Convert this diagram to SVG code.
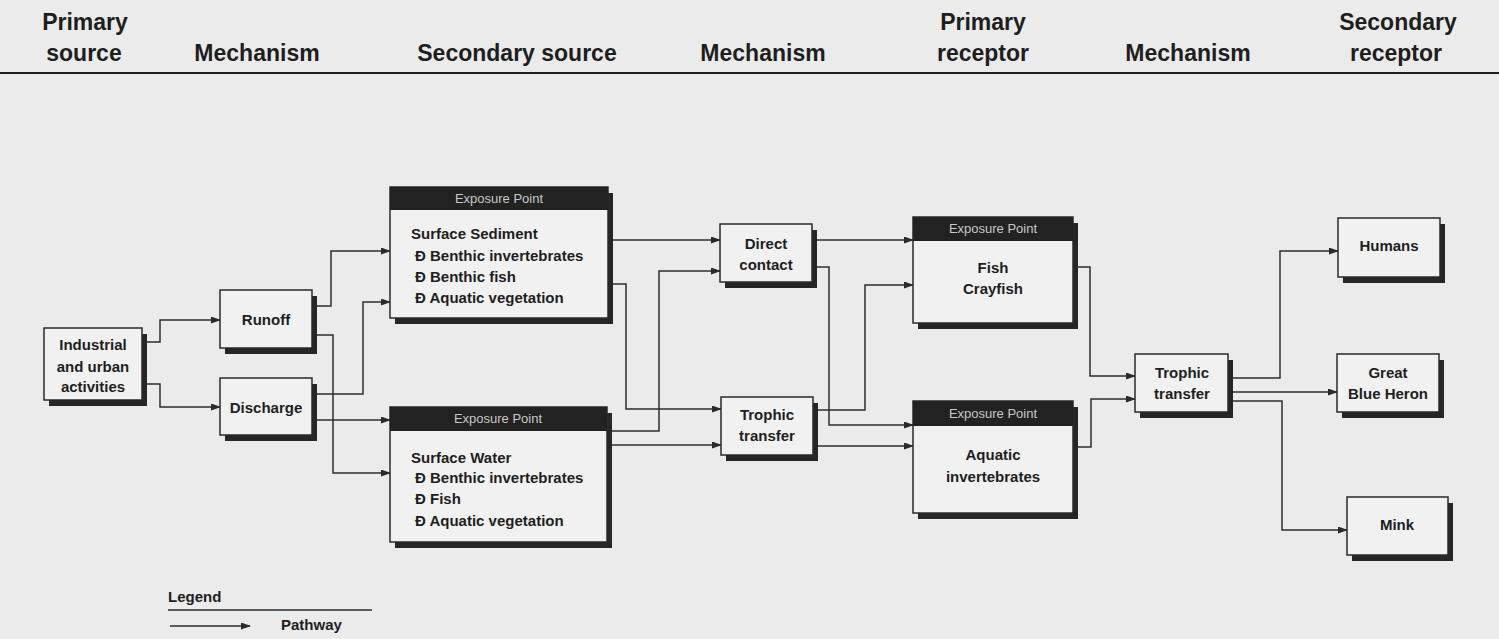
<svg xmlns="http://www.w3.org/2000/svg" width="1499" height="639" viewBox="0 0 1499 639">
<defs>
<marker id="arr" markerUnits="userSpaceOnUse" markerWidth="10" markerHeight="7" refX="9" refY="3.5" orient="auto">
<path d="M0,0 L10,3.5 L0,7 z" fill="#2a2a2a"/>
</marker>
<style>
.hdr{font-family:"Liberation Sans",Arial,sans-serif;font-weight:bold;font-size:23px;fill:#1e1e1e;text-anchor:middle}
.t{font-family:"Liberation Sans",Arial,sans-serif;font-weight:bold;font-size:15px;fill:#1e1e1e}
.c{text-anchor:middle}
.ep{font-family:"Liberation Sans",Arial,sans-serif;font-size:13px;fill:#c8c8c8;text-anchor:middle}
.box{fill:#f1f1f1;stroke:#2a2a2a;stroke-width:1.5}
.sh{fill:#262626}
.bar{fill:#222}
.conn path{fill:none;stroke:#2e2e2e;stroke-width:1.5;marker-end:url(#arr)}
</style>
</defs>
<rect x="0" y="0" width="1499" height="639" fill="#ebebeb"/>

<g id="header">
<text class="hdr" x="85" y="30">Primary</text>
<text class="hdr" x="84" y="61">source</text>
<text class="hdr" x="257" y="61">Mechanism</text>
<text class="hdr" x="517" y="61">Secondary source</text>
<text class="hdr" x="763" y="61">Mechanism</text>
<text class="hdr" x="983" y="30">Primary</text>
<text class="hdr" x="983" y="61">receptor</text>
<text class="hdr" x="1188" y="61">Mechanism</text>
<text class="hdr" x="1398" y="30">Secondary</text>
<text class="hdr" x="1396" y="61">receptor</text>
<line x1="0" y1="73" x2="1499" y2="73" stroke="#1e1e1e" stroke-width="2"/>
</g>

<g id="connectors" class="conn">
<path d="M142,342 H160 V320 H220"/>
<path d="M142,384 H160 V407 H220"/>
<path d="M312,306 H331 V251 H390"/>
<path d="M312,335 H333 V473 H390"/>
<path d="M312,394 H363 V302 H390"/>
<path d="M312,420 H390"/>
<path d="M608,240 H720"/>
<path d="M608,284 H626 V409 H721"/>
<path d="M607,431 H659 V271 H720"/>
<path d="M607,445 H721"/>
<path d="M812,240 H913"/>
<path d="M812,267 H829 V425 H913"/>
<path d="M813,410 H865 V285 H913"/>
<path d="M813,446 H913"/>
<path d="M1073,267 H1090 V376 H1135"/>
<path d="M1073,447 H1091 V399 H1135"/>
<path d="M1228,378 H1280 V251 H1338"/>
<path d="M1228,392 H1337"/>
<path d="M1228,401 H1282 V530 H1347"/>
</g>

<g id="industrial">
<rect class="sh" x="49" y="334" width="98" height="72"/>
<rect class="box" x="44" y="328" width="98" height="72"/>
<text class="t c" x="93" y="350">Industrial</text>
<text class="t c" x="93" y="372">and urban</text>
<text class="t c" x="93" y="392">activities</text>
</g>

<g id="runoff">
<rect class="sh" x="225" y="296" width="92" height="58"/>
<rect class="box" x="220" y="290" width="92" height="58"/>
<text class="t c" x="266" y="325">Runoff</text>
</g>

<g id="discharge">
<rect class="sh" x="225" y="384" width="92" height="57"/>
<rect class="box" x="220" y="378" width="92" height="57"/>
<text class="t c" x="266" y="413">Discharge</text>
</g>

<g id="surface-sediment">
<rect class="sh" x="395" y="193" width="218" height="131"/>
<rect class="box" x="390" y="187" width="218" height="131"/>
<rect class="bar" x="390" y="187" width="218" height="23"/>
<text class="ep" x="499" y="203">Exposure Point</text>
<text class="t" x="411" y="239">Surface Sediment</text>
<text class="t" x="415" y="261">Ð Benthic invertebrates</text>
<text class="t" x="415" y="282">Ð Benthic fish</text>
<text class="t" x="415" y="303">Ð Aquatic vegetation</text>
</g>

<g id="surface-water">
<rect class="sh" x="395" y="413" width="217" height="135"/>
<rect class="box" x="390" y="407" width="217" height="135"/>
<rect class="bar" x="390" y="407" width="217" height="24"/>
<text class="ep" x="498" y="423">Exposure Point</text>
<text class="t" x="411" y="463">Surface Water</text>
<text class="t" x="415" y="483">Ð Benthic invertebrates</text>
<text class="t" x="415" y="504">Ð Fish</text>
<text class="t" x="415" y="526">Ð Aquatic vegetation</text>
</g>

<g id="direct-contact">
<rect class="sh" x="725" y="230" width="92" height="58"/>
<rect class="box" x="720" y="224" width="92" height="58"/>
<text class="t c" x="766" y="249">Direct</text>
<text class="t c" x="766" y="270">contact</text>
</g>

<g id="trophic-transfer-1">
<rect class="sh" x="726" y="403" width="92" height="58"/>
<rect class="box" x="721" y="397" width="92" height="58"/>
<text class="t c" x="767" y="420">Trophic</text>
<text class="t c" x="767" y="441">transfer</text>
</g>

<g id="fish-crayfish">
<rect class="sh" x="918" y="223" width="160" height="106"/>
<rect class="box" x="913" y="217" width="160" height="106"/>
<rect class="bar" x="913" y="217" width="160" height="24"/>
<text class="ep" x="993" y="233">Exposure Point</text>
<text class="t c" x="993" y="273">Fish</text>
<text class="t c" x="993" y="294">Crayfish</text>
</g>

<g id="aquatic-invertebrates">
<rect class="sh" x="918" y="407" width="160" height="112"/>
<rect class="box" x="913" y="401" width="160" height="112"/>
<rect class="bar" x="913" y="401" width="160" height="25"/>
<text class="ep" x="993" y="418">Exposure Point</text>
<text class="t c" x="993" y="460">Aquatic</text>
<text class="t c" x="993" y="482">invertebrates</text>
</g>

<g id="trophic-transfer-2">
<rect class="sh" x="1140" y="360" width="93" height="58"/>
<rect class="box" x="1135" y="354" width="93" height="58"/>
<text class="t c" x="1182" y="378">Trophic</text>
<text class="t c" x="1182" y="399">transfer</text>
</g>

<g id="humans">
<rect class="sh" x="1343" y="224" width="102" height="59"/>
<rect class="box" x="1338" y="218" width="102" height="59"/>
<text class="t c" x="1389" y="251">Humans</text>
</g>

<g id="great-blue-heron">
<rect class="sh" x="1342" y="360" width="102" height="58"/>
<rect class="box" x="1337" y="354" width="102" height="58"/>
<text class="t c" x="1388" y="378">Great</text>
<text class="t c" x="1388" y="399">Blue Heron</text>
</g>

<g id="mink">
<rect class="sh" x="1352" y="503" width="101" height="58"/>
<rect class="box" x="1347" y="497" width="101" height="58"/>
<text class="t c" x="1397" y="530">Mink</text>
</g>

<g id="legend">
<text class="t" x="168" y="602">Legend</text>
<line x1="168" y1="610" x2="372" y2="610" stroke="#2e2e2e" stroke-width="1.5"/>
<path d="M170,626 H250" fill="none" stroke="#2e2e2e" stroke-width="1.5" marker-end="url(#arr)"/>
<text class="t" x="281" y="630">Pathway</text>
</g>
</svg>
